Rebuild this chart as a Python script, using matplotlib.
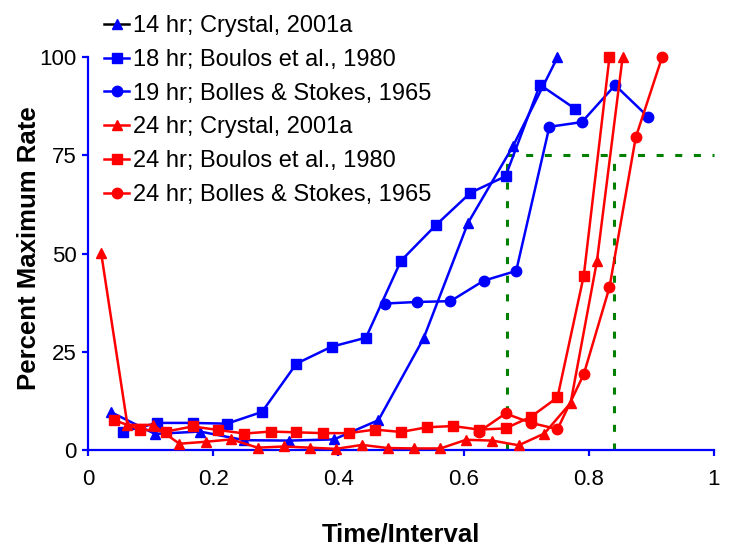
import matplotlib
matplotlib.use('Agg')
import matplotlib.pyplot as plt
from matplotlib.lines import Line2D

plt.rcParams['font.family'] = ['Liberation Sans', 'DejaVu Sans']

# ── Data ─────────────────────────────────────────────────────────────────────
blue_tri_x = [0.036, 0.107, 0.179, 0.250, 0.321, 0.393, 0.464, 0.536, 0.607, 0.679, 0.750]
blue_tri_y = [9.7, 4.1, 4.7, 2.5, 2.4, 2.7, 7.6, 28.4, 57.8, 77.4, 100]

blue_sq_x = [0.056, 0.111, 0.167, 0.222, 0.278, 0.333, 0.389, 0.444, 0.500,
             0.556, 0.611, 0.667, 0.722, 0.778]
blue_sq_y = [4.7, 6.9, 6.9, 6.7, 9.7, 22.0, 26.3, 28.6, 48.2, 57.3, 65.5, 69.7, 93.0, 86.9]

blue_ci_x = [0.474, 0.526, 0.579, 0.632, 0.684, 0.737, 0.789, 0.842, 0.895]
blue_ci_y = [37.3, 37.7, 37.9, 43.1, 45.6, 82.3, 83.5, 92.9, 84.8]

red_tri_x = [0.021, 0.063, 0.104, 0.146, 0.188, 0.229, 0.271, 0.313, 0.354, 0.396, 0.438,
             0.479, 0.521, 0.563, 0.604, 0.646, 0.688, 0.729, 0.771, 0.813, 0.854]
red_tri_y = [50.2, 6.4, 6.4, 1.6, 2.1, 2.7, 0.6, 0.9, 0.6, 0.3, 1.3,
             0.5, 0.4, 0.4, 2.6, 2.4, 1.2, 4.2, 12.0, 48.1, 100]

red_sq_x = [0.042, 0.083, 0.125, 0.167, 0.208, 0.250, 0.292, 0.333, 0.375, 0.417,
            0.458, 0.500, 0.542, 0.583, 0.625, 0.667, 0.708, 0.750, 0.792, 0.833]
red_sq_y = [7.6, 5.2, 4.7, 6.0, 5.1, 4.2, 4.7, 4.5, 4.3, 4.3,
            5.2, 4.6, 5.8, 6.1, 5.2, 5.5, 8.5, 13.4, 44.4, 100]

red_ci_x = [0.625, 0.667, 0.708, 0.750, 0.792, 0.833, 0.875, 0.917]
red_ci_y = [4.7, 9.3, 6.9, 5.3, 19.3, 41.4, 79.6, 100]

labels = ['14 hr; Crystal, 2001a', '18 hr; Boulos et al., 1980',
          '19 hr; Bolles & Stokes, 1965', '24 hr; Crystal, 2001a',
          '24 hr; Boulos et al., 1980', '24 hr; Bolles & Stokes, 1965']

guide_x = [0.67, 0.84]
guide_y = 75

# ── Figure ───────────────────────────────────────────────────────────────────
BLUE = '#0000ff'
RED = '#ff0000'
GREEN = '#008000'

fig = plt.figure(figsize=(7.32, 5.54), dpi=100)
ax = fig.add_axes([0.1202, 0.1877, 0.8552, 0.7089])

lw = 1.8
ms = 7.5
series = [
    (blue_tri_x, blue_tri_y, BLUE, '^'),
    (blue_sq_x, blue_sq_y, BLUE, 's'),
    (blue_ci_x, blue_ci_y, BLUE, 'o'),
    (red_tri_x, red_tri_y, RED, '^'),
    (red_sq_x, red_sq_y, RED, 's'),
    (red_ci_x, red_ci_y, RED, 'o'),
]
handles = []
for (x, y, c, m), lab in zip(series, labels):
    ln, = ax.plot(x, y, color=c, marker=m, ms=ms, lw=lw, mec=c, mfc=c,
                  clip_on=False, zorder=3, label=lab)
    handles.append(ln)

# first legend entry has a dark line with a blue marker
handles[0] = Line2D([], [], color='black', lw=lw, marker='^', ms=ms,
                    mfc=BLUE, mec=BLUE)

# guide lines
dash = (0, (2.3, 3.8))
for gx in guide_x:
    ax.plot([gx, gx], [0, guide_y], color=GREEN, lw=2.2, ls=dash, zorder=2,
            clip_on=False)
ax.plot([guide_x[0], 1.0], [guide_y, guide_y], color=GREEN, lw=2.2, ls=dash,
        zorder=2, clip_on=False)

ax.set_xlim(0, 1)
ax.set_ylim(0, 100)
ax.set_xticks([0, 0.2, 0.4, 0.6, 0.8, 1.0])
ax.set_xticklabels(['0', '0.2', '0.4', '0.6', '0.8', '1'])
ax.set_yticks([0, 25, 50, 75, 100])

for s in ['top', 'right']:
    ax.spines[s].set_visible(False)
for s in ['left', 'bottom']:
    ax.spines[s].set_color(BLUE)
    ax.spines[s].set_linewidth(1.6)
ax.tick_params(direction='out', length=4, width=1.6, color=BLUE,
               labelsize=16, labelcolor='black')
ax.tick_params(axis='x', pad=10)
ax.tick_params(axis='y', pad=4)

ax.set_xlabel('Time/Interval', fontsize=18.5, fontweight='bold', labelpad=23)
ax.set_ylabel('Percent Maximum Rate', fontsize=18.5, fontweight='bold', labelpad=2)
ax.yaxis.set_label_coords(-0.075, 0.515)

leg = ax.legend(handles, labels, loc='upper left',
                bbox_to_anchor=(104 / 732, 1 - 15 / 554),
                bbox_transform=fig.transFigure, frameon=False, fontsize=17,
                handlelength=1.06, handletextpad=0.17, labelspacing=0.5,
                borderpad=0, borderaxespad=0)

fig.savefig('out.png', dpi=100)
